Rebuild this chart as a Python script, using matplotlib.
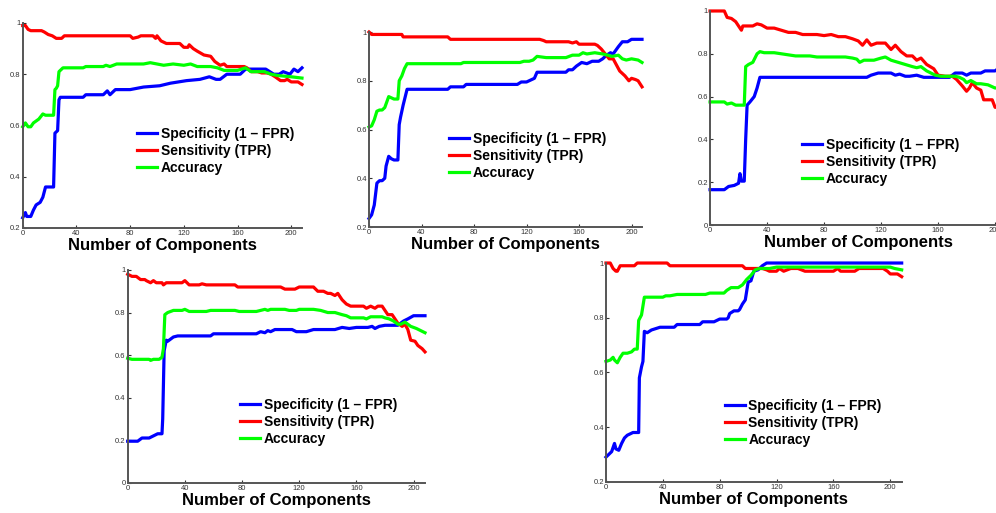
import matplotlib
matplotlib.use("Agg")
import matplotlib.pyplot as plt

plt.rcParams["font.family"] = ["Liberation Sans", "DejaVu Sans"]

# ------------------------------------------------------------
# DATA
# ------------------------------------------------------------
series_labels = ["Specificity (1 \u2013 FPR)", "Sensitivity (TPR)", "Accuracy"]
series_colors = ["#0000ff", "#ff0000", "#00ff00"]
x_ticks = [0, 40, 80, 120, 160, 200]

# panel 1 (top left)
p1_spec_x = [0, 2, 3, 6, 8, 10, 13, 15, 17, 23, 24, 26, 27, 28, 45, 47, 60, 63, 65, 69, 80, 90, 102, 110,
             122, 132, 139, 144, 147, 152, 162, 166, 181, 187, 191, 194, 199, 202, 205, 208]
p1_spec_y = [0.24, 0.26, 0.245, 0.245, 0.27, 0.29, 0.30, 0.32, 0.36, 0.36, 0.57, 0.58, 0.70, 0.71, 0.71, 0.72,
             0.72, 0.735, 0.72, 0.74, 0.74, 0.75, 0.755, 0.765, 0.775, 0.78, 0.79, 0.78, 0.78, 0.80, 0.80,
             0.82, 0.82, 0.80, 0.80, 0.81, 0.80, 0.82, 0.81, 0.825]
p1_sens_x = [0, 2, 4, 6, 14, 16, 19, 22, 25, 29, 31, 80, 82, 86, 88, 97, 99, 100, 103, 107, 117, 120, 123,
             124, 127, 130, 135, 140, 143, 147, 150, 152, 165, 167, 170, 175, 178, 182, 185, 188, 192, 195,
             197, 200, 205, 208]
p1_sens_y = [0.99, 0.99, 0.975, 0.97, 0.97, 0.965, 0.955, 0.95, 0.94, 0.94, 0.95, 0.95, 0.94, 0.945, 0.95,
             0.95, 0.94, 0.95, 0.93, 0.92, 0.92, 0.905, 0.905, 0.915, 0.90, 0.89, 0.875, 0.87, 0.85, 0.835,
             0.84, 0.83, 0.83, 0.825, 0.81, 0.81, 0.805, 0.805, 0.80, 0.79, 0.775, 0.775, 0.78, 0.77, 0.77,
             0.76]
p1_acc_x = [0, 2, 4, 6, 8, 12, 15, 17, 23, 24, 25, 26, 27, 30, 45, 47, 60, 62, 65, 70, 90, 95, 100, 105,
            112, 120, 125, 130, 140, 145, 150, 160, 166, 170, 180, 185, 190, 200, 208]
p1_acc_y = [0.595, 0.61, 0.595, 0.595, 0.61, 0.625, 0.645, 0.64, 0.64, 0.74, 0.745, 0.755, 0.81, 0.825,
            0.825, 0.83, 0.83, 0.835, 0.83, 0.84, 0.84, 0.845, 0.84, 0.835, 0.84, 0.835, 0.84, 0.83, 0.83,
            0.825, 0.815, 0.815, 0.825, 0.81, 0.81, 0.80, 0.795, 0.79, 0.785]

# panel 2 (top middle)
p2_spec_x = [0, 2, 4, 6, 8, 10, 12, 13, 15, 17, 19, 22, 23, 24, 26, 29, 60, 62, 72, 74, 113, 116, 120, 122,
             126, 128, 150, 152, 155, 158, 162, 166, 170, 175, 178, 181, 184, 186, 190, 193, 197, 200, 208]
p2_spec_y = [0.235, 0.25, 0.29, 0.38, 0.39, 0.39, 0.40, 0.45, 0.49, 0.48, 0.475, 0.475, 0.62, 0.65, 0.70,
             0.765, 0.765, 0.775, 0.775, 0.785, 0.785, 0.795, 0.795, 0.80, 0.81, 0.835, 0.835, 0.845, 0.845,
             0.86, 0.875, 0.87, 0.88, 0.88, 0.89, 0.905, 0.915, 0.91, 0.94, 0.96, 0.96, 0.97, 0.97]
p2_sens_x = [0, 2, 25, 26, 60, 62, 130, 133, 135, 152, 155, 158, 160, 172, 174, 177, 180, 183, 186, 188,
             191, 195, 198, 200, 203, 205, 208]
p2_sens_y = [1.0, 0.99, 0.99, 0.98, 0.98, 0.97, 0.97, 0.965, 0.96, 0.96, 0.955, 0.96, 0.95, 0.95, 0.945,
             0.93, 0.91, 0.89, 0.89, 0.87, 0.84, 0.82, 0.80, 0.81, 0.805, 0.80, 0.775]
p2_acc_x = [0, 2, 4, 6, 8, 10, 12, 14, 15, 17, 19, 22, 23, 25, 27, 29, 70, 72, 115, 118, 122, 125, 128,
            135, 150, 155, 160, 163, 166, 172, 178, 182, 185, 190, 193, 196, 200, 205, 208]
p2_acc_y = [0.61, 0.615, 0.64, 0.675, 0.68, 0.68, 0.69, 0.72, 0.735, 0.73, 0.725, 0.725, 0.80, 0.82, 0.85,
            0.87, 0.87, 0.875, 0.875, 0.88, 0.88, 0.885, 0.90, 0.895, 0.895, 0.905, 0.905, 0.915, 0.91,
            0.915, 0.91, 0.905, 0.90, 0.905, 0.89, 0.885, 0.89, 0.885, 0.875]

# panel 3 (top right)
p3_spec_x = [0, 10, 11, 13, 17, 20, 21, 22, 24, 25, 26, 28, 31, 33, 35, 110, 113, 118, 127, 130, 133, 137,
             140, 145, 150, 168, 171, 172, 177, 180, 183, 190, 193, 200, 202, 208]
p3_spec_y = [0.165, 0.165, 0.17, 0.18, 0.185, 0.195, 0.24, 0.205, 0.205, 0.40, 0.56, 0.575, 0.60, 0.64,
             0.69, 0.69, 0.70, 0.71, 0.71, 0.70, 0.705, 0.695, 0.695, 0.70, 0.69, 0.69, 0.705, 0.71, 0.71,
             0.70, 0.71, 0.71, 0.72, 0.72, 0.73, 0.73]
p3_sens_x = [0, 10, 12, 15, 18, 20, 22, 23, 27, 30, 33, 36, 40, 45, 50, 55, 60, 65, 75, 80, 85, 90, 95,
             100, 104, 107, 110, 113, 117, 123, 127, 130, 134, 138, 142, 145, 148, 152, 157, 160, 165, 170,
             173, 177, 180, 182, 184, 187, 190, 192, 198, 200, 205, 208]
p3_sens_y = [1.0, 1.0, 0.97, 0.965, 0.95, 0.93, 0.91, 0.93, 0.93, 0.93, 0.94, 0.935, 0.92, 0.92, 0.91,
             0.90, 0.90, 0.89, 0.89, 0.885, 0.89, 0.88, 0.88, 0.87, 0.86, 0.84, 0.865, 0.84, 0.85, 0.85,
             0.82, 0.84, 0.81, 0.79, 0.79, 0.77, 0.78, 0.75, 0.73, 0.70, 0.695, 0.695, 0.68, 0.65, 0.625,
             0.64, 0.665, 0.64, 0.63, 0.585, 0.585, 0.55, 0.55, 0.56]
p3_acc_x = [0, 10, 12, 15, 18, 24, 25, 27, 30, 33, 35, 38, 45, 50, 55, 60, 70, 75, 95, 100, 103, 105, 108,
            115, 120, 123, 127, 132, 137, 142, 145, 148, 152, 158, 162, 172, 175, 178, 180, 183, 187, 190,
            195, 200, 205, 208]
p3_acc_y = [0.575, 0.575, 0.565, 0.57, 0.56, 0.56, 0.74, 0.75, 0.76, 0.80, 0.81, 0.805, 0.805, 0.80, 0.795,
            0.79, 0.79, 0.785, 0.785, 0.78, 0.775, 0.76, 0.77, 0.77, 0.78, 0.785, 0.77, 0.76, 0.75, 0.74,
            0.735, 0.74, 0.72, 0.70, 0.695, 0.695, 0.69, 0.68, 0.665, 0.675, 0.66, 0.66, 0.655, 0.64,
            0.645, 0.64]

# panel 4 (bottom left)
p4_spec_x = [0, 7, 10, 15, 18, 21, 24, 24.5, 25.5, 27, 28, 32, 35, 58, 60, 90, 93, 96, 98, 100, 103, 115,
             118, 125, 130, 145, 150, 155, 160, 168, 171, 173, 176, 180, 189, 193, 196, 200, 208]
p4_spec_y = [0.195, 0.195, 0.21, 0.21, 0.22, 0.23, 0.23, 0.30, 0.62, 0.67, 0.665, 0.685, 0.69, 0.69, 0.70,
             0.70, 0.71, 0.705, 0.715, 0.71, 0.72, 0.72, 0.71, 0.71, 0.72, 0.72, 0.73, 0.725, 0.73, 0.73,
             0.735, 0.725, 0.735, 0.74, 0.74, 0.76, 0.77, 0.785, 0.785]
p4_sens_x = [0, 3, 6, 9, 12, 13, 16, 18, 20, 24, 25, 27, 38, 40, 43, 50, 52, 55, 75, 77, 107, 110, 117, 120,
             130, 133, 137, 140, 142, 145, 147, 150, 153, 156, 165, 167, 170, 173, 175, 178, 180, 182, 185,
             187, 189, 192, 194, 196, 198, 201, 203, 206, 208]
p4_sens_y = [0.98, 0.97, 0.97, 0.955, 0.955, 0.95, 0.94, 0.95, 0.94, 0.94, 0.93, 0.94, 0.94, 0.95, 0.93,
             0.93, 0.935, 0.93, 0.93, 0.92, 0.92, 0.91, 0.91, 0.92, 0.92, 0.90, 0.90, 0.89, 0.89, 0.88,
             0.89, 0.86, 0.84, 0.83, 0.83, 0.82, 0.83, 0.82, 0.83, 0.83, 0.81, 0.79, 0.79, 0.77, 0.75,
             0.735, 0.745, 0.72, 0.67, 0.665, 0.645, 0.63, 0.615]
p4_acc_x = [0, 3, 15, 16, 18, 22, 24, 25, 26, 28, 32, 38, 40, 43, 55, 58, 75, 78, 90, 93, 96, 98, 100, 110,
            113, 118, 120, 130, 135, 140, 145, 150, 153, 156, 165, 167, 170, 178, 180, 183, 186, 189, 191,
            194, 198, 202, 205, 208]
p4_acc_y = [0.585, 0.58, 0.58, 0.575, 0.58, 0.58, 0.59, 0.63, 0.79, 0.80, 0.81, 0.81, 0.815, 0.805, 0.805,
            0.81, 0.81, 0.805, 0.805, 0.81, 0.815, 0.81, 0.815, 0.815, 0.81, 0.81, 0.815, 0.815, 0.81,
            0.80, 0.80, 0.79, 0.785, 0.775, 0.775, 0.77, 0.78, 0.78, 0.775, 0.77, 0.76, 0.745, 0.745,
            0.755, 0.735, 0.725, 0.715, 0.705]

# panel 5 (bottom right)
p5_spec_x = [0, 2, 4, 6, 7, 9, 11, 13, 15, 17, 19, 23, 23.5, 25, 26, 27, 29, 32, 35, 38, 48, 50, 66, 68,
             76, 80, 85, 86, 87, 90, 93, 94, 96, 98, 100, 102, 104, 107, 110, 113, 208]
p5_spec_y = [0.29, 0.30, 0.31, 0.34, 0.32, 0.315, 0.34, 0.36, 0.37, 0.375, 0.38, 0.38, 0.58, 0.62, 0.64,
             0.75, 0.745, 0.755, 0.76, 0.765, 0.765, 0.775, 0.775, 0.785, 0.785, 0.795, 0.795, 0.80, 0.815,
             0.825, 0.825, 0.83, 0.85, 0.865, 0.93, 0.935, 0.97, 0.975, 0.99, 1.0, 1.0]
p5_sens_x = [0, 3, 5, 7, 8, 10, 20, 22, 43, 45, 96, 98, 110, 113, 115, 120, 122, 125, 130, 135, 140, 160,
             163, 165, 175, 178, 195, 198, 200, 205, 208]
p5_sens_y = [1.0, 1.0, 0.98, 0.97, 0.97, 0.99, 0.99, 1.0, 1.0, 0.99, 0.99, 0.98, 0.98, 0.975, 0.97, 0.97,
             0.98, 0.97, 0.98, 0.98, 0.97, 0.97, 0.98, 0.97, 0.97, 0.98, 0.98, 0.97, 0.96, 0.96, 0.95]
p5_acc_x = [0, 3, 5, 6, 8, 10, 12, 15, 18, 20, 22, 23, 25, 27, 30, 40, 42, 45, 50, 70, 73, 83, 85, 88, 93,
            96, 99, 102, 105, 108, 115, 120, 200, 203, 208]
p5_acc_y = [0.64, 0.645, 0.655, 0.645, 0.635, 0.655, 0.67, 0.67, 0.675, 0.685, 0.685, 0.79, 0.81, 0.875,
            0.875, 0.875, 0.88, 0.88, 0.885, 0.885, 0.89, 0.89, 0.90, 0.91, 0.91, 0.92, 0.94, 0.955, 0.975,
            0.98, 0.98, 0.985, 0.985, 0.98, 0.975]

# ------------------------------------------------------------
# LAYOUT
# ------------------------------------------------------------
panels = [
    # axes rect, y min, curves, legend anchor (axes coords)
    ([0.0228, 0.5556, 0.2804, 0.3996], 0.2,
     [(p1_spec_x, p1_spec_y), (p1_sens_x, p1_sens_y), (p1_acc_x, p1_acc_y)], (0.409, 0.376)),
    ([0.3705, 0.5575, 0.2741, 0.3801], 0.2,
     [(p2_spec_x, p2_spec_y), (p2_sens_x, p2_sens_y), (p2_acc_x, p2_acc_y)], (0.293, 0.364)),
    ([0.7129, 0.5614, 0.2976, 0.4172], 0.0,
     [(p3_spec_x, p3_spec_y), (p3_sens_x, p3_sens_y), (p3_acc_x, p3_acc_y)], (0.310, 0.294)),
    ([0.1282, 0.0591, 0.2985, 0.4146], 0.0,
     [(p4_spec_x, p4_spec_y), (p4_sens_x, p4_sens_y), (p4_acc_x, p4_acc_y)], (0.378, 0.285)),
    ([0.6084, 0.0610, 0.2969, 0.4263], 0.2,
     [(p5_spec_x, p5_spec_y), (p5_sens_x, p5_sens_y), (p5_acc_x, p5_acc_y)], (0.402, 0.268)),
]


def fmt_tick(v):
    if abs(v - round(v)) < 1e-9:
        return str(int(round(v)))
    return f"{v:.1f}"


def draw_panel(fig, rect, ymin, curves, anchor):
    ax = fig.add_axes(rect)
    for (xs, ys), lab, col in zip(curves, series_labels, series_colors):
        ax.plot(xs, ys, color=col, linewidth=2.3, label=lab, clip_on=False,
                solid_joinstyle="round")
    ax.set_xlim(0, 208)
    ax.set_ylim(ymin, 1.0)
    ax.set_xticks(x_ticks)
    ax.set_xticklabels([str(t) for t in x_ticks])
    yt = [ymin + 0.2 * i for i in range(int(round((1.0 - ymin) / 0.2)) + 1)]
    ax.set_yticks(yt)
    ax.set_yticklabels([fmt_tick(v) for v in yt])
    for side in ("top", "right"):
        ax.spines[side].set_visible(False)
    for side in ("left", "bottom"):
        ax.spines[side].set_color("#555555")
        ax.spines[side].set_linewidth(1.4)
    ax.tick_params(labelsize=5.5, colors="#333333", direction="in", length=2, width=0.8, pad=1.5)
    ax.set_xlabel("Number of Components", fontsize=12, fontweight="bold", labelpad=1)
    ax.legend(loc="center left", bbox_to_anchor=anchor, frameon=False,
              prop={"size": 10, "weight": "bold"}, handlelength=1.45, handletextpad=0.25,
              labelspacing=0.2, borderpad=0, borderaxespad=0)
    return ax


fig = plt.figure(figsize=(9.96, 5.13), dpi=100)
for rect, ymin, curves, anchor in panels:
    draw_panel(fig, rect, ymin, curves, anchor)

fig.savefig("out.png", dpi=100)
